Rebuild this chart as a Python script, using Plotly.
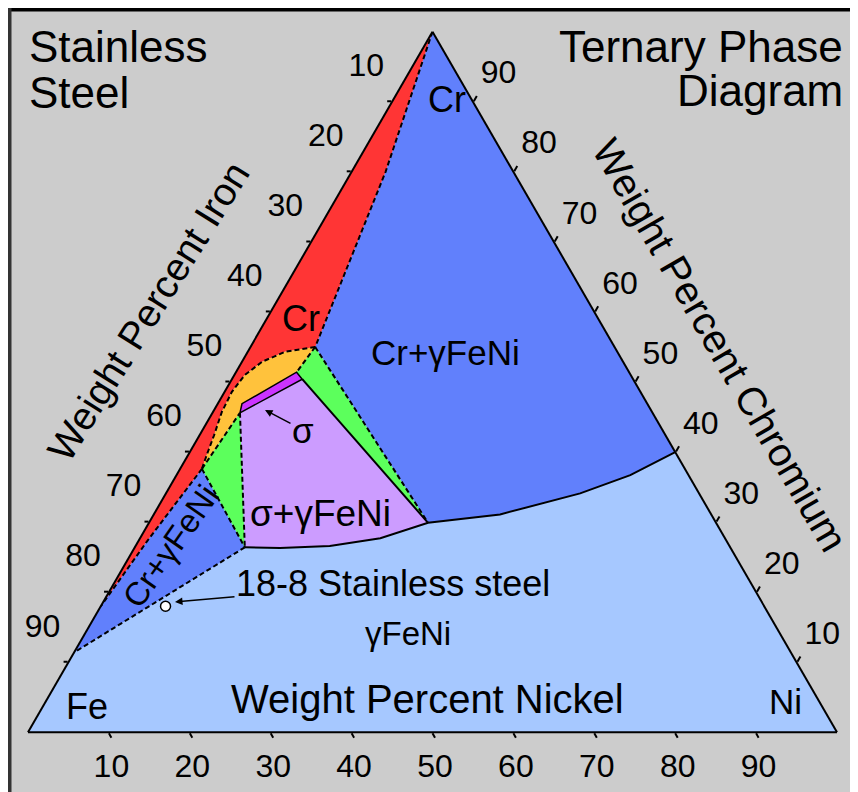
import plotly.graph_objects as go

# ---------------- data: phase boundaries as (Cr, Fe, Ni) weight percent ----------------
cr_gamma_boundary = [(100, 0, 0), (80, 15.8, 4.2), (55, 37, 8)]            # Cr | Cr+γFeNi
alpha_sigma_boundary = [(55, 37, 8), (54.3, 41.1, 4.6), (52.9, 44.6, 2.5),
                        (51.0, 47.7, 1.3), (48.6, 50.5, 0.9), (45.7, 53.2, 1.1),
                        (42.4, 55.8, 1.8), (39.6, 58.1, 2.3), (37.6, 59.7, 2.7)]
alpha_lower_boundary = [(37.6, 59.7, 2.7), (27.4, 71.5, 1.1), (18, 82, 0)]
sigma_phase = [(45.6, 51.0, 3.4), (46.9, 50.1, 3.0), (51.4, 41.1, 7.5), (50.4, 40.9, 8.7)]
gamma_boundary_solid = [(26.4, 60.0, 13.6), (26.3, 55.7, 18.0), (26.6, 49.4, 24.0),
                        (27.7, 42.6, 29.7), (29.9, 35.6, 34.5), (31.1, 26.1, 42.8),
                        (34.1, 14.7, 51.2), (36.7, 7.2, 56.1), (40, 0, 60)]
gamma_boundary_dashed = [(26.4, 60.0, 13.6), (11.4, 88.6, 0)]
alloy_18_8 = [(18, 74, 8)]

tick_vals = [90, 80, 70, 60, 50, 40, 30, 20, 10]
tick_text = ["10", "20", "30", "40", "50", "60", "70", "80", "90"]

# ---------------- styles ----------------
W, H = 858, 792
OFF = 8   # page offset of the figure (body margin)
FONT = "Liberation Sans, Arial, sans-serif"
GRAY = "#cccccc"
LIGHT_BLUE = "#a6c8ff"
MID_BLUE = "#6180fc"
RED = "#ff3535"
ORANGE = "#ffc23c"
GREEN = "#5cff5c"
PURPLE = "#cc9cff"
MAGENTA = "#cc33ff"
DASH = "5px,3px"

apex = cr_gamma_boundary[0]
P1 = cr_gamma_boundary[-1]
A = alpha_sigma_boundary[-1]
s1, s2, s3, s4 = sigma_phase
L = gamma_boundary_solid[0]
R = gamma_boundary_solid[4]


def tern(points, **kw):
    return go.Scatterternary(
        a=[p[0] for p in points], b=[p[1] for p in points], c=[p[2] for p in points],
        hoverinfo="skip", showlegend=False, **kw)


def region(points, color):
    return tern(points, mode="lines", fill="toself", fillcolor=color,
                line=dict(width=0, color=color))


def boundary(points, dashed=True, width=2):
    return tern(points, mode="lines",
                line=dict(color="black", width=width, dash=DASH if dashed else "solid"))


traces = [
    region(cr_gamma_boundary + [R] + gamma_boundary_solid[5:] + [apex], MID_BLUE),
    region(alpha_lower_boundary + gamma_boundary_dashed[::-1] + [A], MID_BLUE),
    region(cr_gamma_boundary + alpha_sigma_boundary[1:] + alpha_lower_boundary[1:] + [apex], RED),
    region(alpha_sigma_boundary + [s1, s2, s3, P1], ORANGE),
    region([P1, s3, s4, R, P1], GREEN),
    region([A, s1, L, A], GREEN),
    region([s1, s4] + gamma_boundary_solid[:5][::-1] + [s1], PURPLE),
    region(sigma_phase + [s1], MAGENTA),
    boundary(cr_gamma_boundary),
    boundary(alpha_sigma_boundary),
    boundary(alpha_lower_boundary),
    boundary(gamma_boundary_dashed),
    boundary([P1, s3]),
    boundary([P1, R]),
    boundary([A, s1]),
    boundary([s1, L]),
    boundary([A, L]),
    boundary(gamma_boundary_solid, dashed=False),
    boundary([s4, R], dashed=False),
    boundary(sigma_phase + [s1], dashed=False, width=1.5),
    tern(alloy_18_8, mode="markers",
         marker=dict(size=10, color="white", line=dict(color="black", width=1.5))),
]

fig = go.Figure(traces)


def axis(texts, ticklen, size=32):
    return dict(title=dict(text=""), tickmode="array", tickvals=tick_vals, ticktext=texts,
                ticks="outside", ticklen=ticklen, tickwidth=1.5, tickcolor="black",
                linecolor="black", linewidth=2, showgrid=False, showline=True,
                tickfont=dict(family=FONT, size=size, color="black"))


# left / right labels sit above their ticks: pad them with blank lines
left_text = ["<span style='font-size:32px'>" + t + "</span><br> <br> " for t in tick_text]
right_text = [t + "<br> " for t in tick_text]


def px(x, y):
    return (x - OFF) / W, 1 - (y - OFF) / H


def ann(text, x, y, size, **kw):
    xp, yp = px(x, y)
    d = dict(x=xp, y=yp, xref="paper", yref="paper", text=text, showarrow=False,
             font=dict(family=FONT, size=size, color="black"),
             xanchor="center", yanchor="middle")
    d.update(kw)
    return d


annotations = [
    ann("Stainless", 27, 47, 44, xanchor="left"),
    ann("Steel", 27, 92, 44, xanchor="left"),
    ann("Ternary Phase", 845, 46, 44, xanchor="right"),
    ann("Diagram", 845, 91, 44, xanchor="right"),
    ann("Weight Percent Iron", 148, 311, 39, textangle=-58),
    ann("Weight Percent Chromium", 720, 345, 40, textangle=60),
    ann("Weight Percent Nickel", 427, 699, 40),
    ann("Fe", 87, 706, 36),
    ann("Ni", 785, 701, 35),
    ann("Cr", 447, 100, 36),
    ann("Cr", 301, 318, 36),
    ann("Cr+γFeNi", 445, 352, 35),
    ann("σ+γFeNi", 320, 513, 37),
    ann("γFeNi", 408, 633, 33),
    ann("Cr+γFeNi", 170, 546, 33, textangle=-55),
]

# arrows
sx, sy = px(265, 410)
annotations.append(dict(x=sx, y=sy, xref="paper", yref="paper", text="σ", showarrow=True,
                        ax=38, ay=20, arrowhead=2, arrowsize=1, arrowwidth=1.5,
                        arrowcolor="black", font=dict(family=FONT, size=35, color="black")))
tx, ty = px(175, 602)
annotations.append(dict(x=tx, y=ty, xref="paper", yref="paper", text="18-8 Stainless steel",
                        showarrow=True, ax=218, ay=-19, arrowhead=2, arrowsize=1,
                        arrowwidth=1.5, arrowcolor="black",
                        font=dict(family=FONT, size=36, color="black")))

shapes = [
    dict(type="rect", xref="paper", yref="paper", x0=0, x1=1, y0=1 - 3.5 / H, y1=1,
         fillcolor="black", line=dict(width=0), layer="below"),
    dict(type="rect", xref="paper", yref="paper", x0=0, x1=3.5 / W, y0=0, y1=1,
         fillcolor="#333333", line=dict(width=0), layer="below"),
]

fig.update_layout(
    width=W, height=H, autosize=False,
    margin=dict(l=0, r=0, t=0, b=0),
    paper_bgcolor=GRAY,
    ternary=dict(
        sum=100, bgcolor=LIGHT_BLUE,
        domain=dict(x=[20 / W, 829 / W], y=[58 / H, 778 / H]),
        aaxis=axis(left_text, 4, size=24), baxis=axis(tick_text, 5), caxis=axis(right_text, 6),
    ),
    annotations=annotations,
    shapes=shapes,
    showlegend=False,
)

fig.write_html("out.html")
